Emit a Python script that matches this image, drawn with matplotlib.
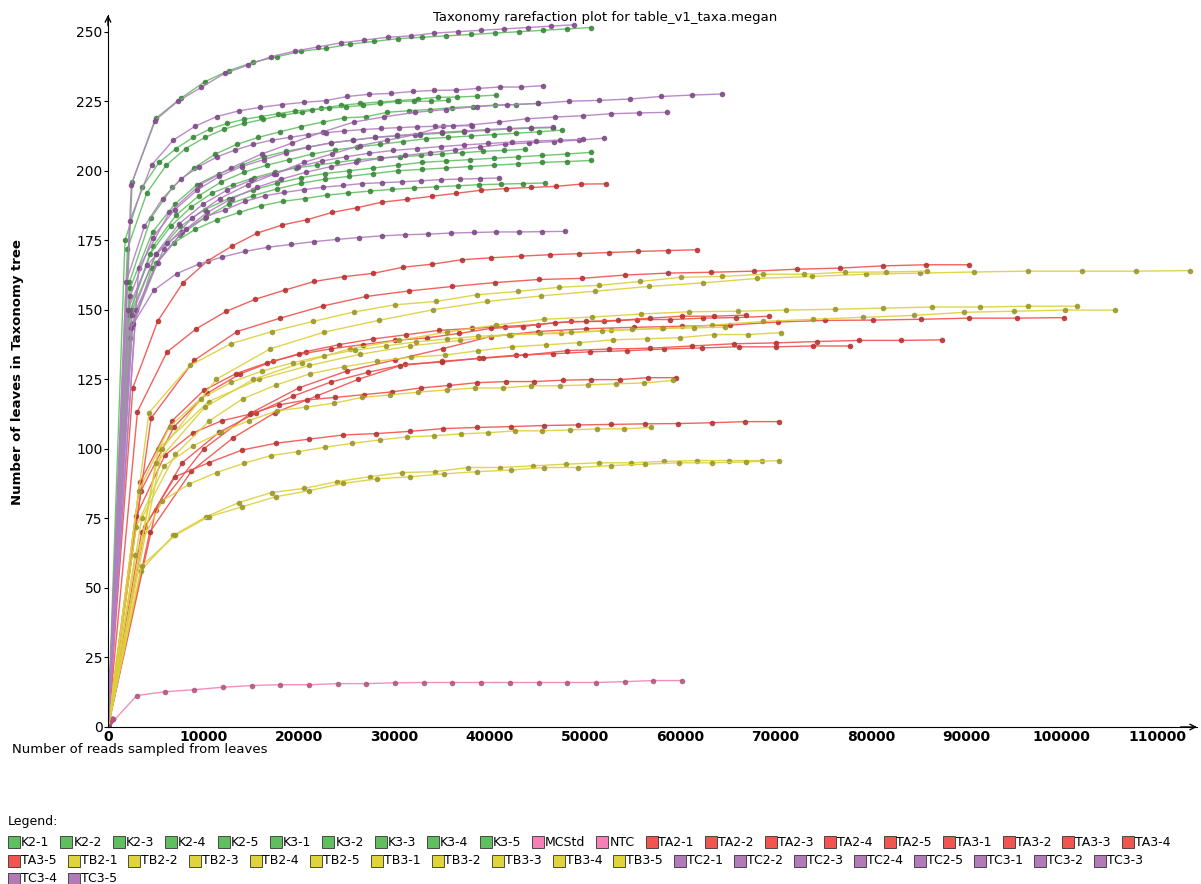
import numpy as np
import matplotlib
matplotlib.use("Agg")
import matplotlib.pyplot as plt
from matplotlib.patches import Rectangle

# total reads per sample; each curve is sampled in 20 equal steps (plus origin)
k_names = ["K2-1", "K2-2", "K2-3", "K2-4", "K2-5", "K3-1", "K3-2", "K3-3", "K3-4", "K3-5"]
k_totals = [50700, 40700, 35700, 45050, 46700, 47570, 43730, 50620, 50620, 45830]
k_leaves = [
    [196, 219, 226, 232, 236, 239, 241, 243, 244, 245.5, 246.5, 247.5, 248, 248.5, 249, 249.5, 250, 250.5, 251, 251.5],
    [172, 192, 202, 208, 212, 215, 217, 218.5, 220, 221, 222.5, 223.5, 224.2, 224.7, 225.2, 225.8, 226.4, 226.5, 226.8, 227.2],
    [175, 194, 203, 208, 212, 215, 217, 218.5, 219.5, 220.5, 221.5, 222, 222.5, 223, 223.5, 224.2, 225, 225, 225, 225.3],
    [160, 183, 194, 201, 206, 209.5, 212, 214, 215.9, 217.5, 219, 219.4, 221, 221.6, 222, 222.7, 223.1, 223.6, 223.8, 224.2],
    [158, 178, 188, 195, 199, 202, 205, 207, 208.5, 210, 211, 212, 212.5, 213, 213.5, 214, 214.5, 215, 215.3, 215.5],
    [150, 173, 184, 191, 196, 199.5, 202, 204, 206, 207.5, 208.5, 209.5, 210.5, 211.5, 212, 212.5, 213, 213.5, 214, 214.6],
    [148, 170, 180, 187, 192, 195, 197.5, 199.5, 201, 202, 203, 204, 204.5, 205, 205.5, 206, 206.5, 207, 207.3, 207.7],
    [150, 170, 180, 186, 190, 193, 195.5, 197.5, 199, 200, 201, 202, 203, 203.5, 204, 204.5, 205, 205.5, 206, 206.6],
    [145, 167, 177, 183, 188, 191, 193.5, 195.5, 197, 198, 199, 200, 200.5, 201, 201.5, 202, 202.5, 203, 203.3, 203.7],
    [140, 165, 174, 179, 182.4, 185, 187.4, 189, 190, 191.2, 192, 192.7, 193.3, 193.8, 194.2, 194.6, 195, 195.2, 195.4, 195.6],
]

ctrl_names = ["MCStd", "NTC"]
ctrl_totals = [60200, 500]
ctrl_leaves = [
    [11.3, 12.7, 13.4, 14.3, 14.9, 15.2, 15.2, 15.6, 15.6, 15.9, 16, 16, 16, 16, 16, 16, 16, 16.3, 16.7, 16.7],
    [0.5, 1, 1, 1.5, 1.5, 2, 2, 2, 2, 2.5, 2.5, 2.5, 2.5, 3, 3, 3, 3, 3, 3, 3],
]

ta_names = ["TA2-1", "TA2-2", "TA2-3", "TA2-4", "TA2-5", "TA3-1", "TA3-2", "TA3-3", "TA3-4", "TA3-5"]
ta_totals = [52200, 61800, 90300, 100300, 69350, 77800, 87500, 59600, 70350, 66900]
ta_leaves = [
    [122, 146, 159.6, 167.6, 173, 177.6, 180.5, 182.4, 185, 186.7, 188.7, 189.7, 190.8, 191.9, 193, 193.6, 194, 194.4, 195.2, 195.3],
    [113.4, 134.8, 143.2, 149.4, 153.8, 157.1, 160.2, 161.9, 163.1, 165.3, 166.4, 168, 168.7, 169.3, 169.8, 170.2, 170.6, 171, 171.3, 171.6],
    [111, 131.8, 142.2, 147, 151.4, 154.8, 156.8, 158.4, 159.8, 160.9, 161.3, 162.5, 163.2, 163.5, 163.9, 164.6, 165, 165.8, 166.2, 166.2],
    [78, 100, 113, 122, 128, 132, 136, 140.4, 142.2, 143.2, 143.7, 144.1, 144.5, 145.6, 146.2, 146.3, 146.6, 147, 147, 147.2],
    [85, 108, 120, 127, 131.5, 135, 137.5, 139.5, 141, 142.6, 143.3, 144, 144.7, 145.8, 145.8, 146.5, 146.5, 147, 147.2, 147.7],
    [72, 95, 106, 113, 119, 124, 127.5, 130.4, 131.2, 132.6, 133.7, 134.2, 134.9, 135.3, 135.9, 136.3, 136.7, 136.7, 137, 137],
    [70, 92, 104, 113, 119, 125, 129.9, 131.5, 132.6, 133.7, 135.3, 135.9, 136.2, 137, 137.8, 138.1, 138.6, 139, 139, 139.2],
    [76, 97.7, 105.8, 110.1, 112.5, 115.8, 117.6, 118.5, 119.5, 120.5, 121.9, 122.8, 123.8, 124.2, 124.2, 124.7, 124.9, 124.9, 125.6, 125.6],
    [70, 90, 95, 99.6, 102, 103.5, 105, 105.5, 106.3, 107.3, 107.7, 108, 108.4, 108.6, 108.8, 109, 109.1, 109.4, 109.8, 109.8],
    [88, 110, 121, 127, 131, 134, 136, 137.5, 139, 139.9, 141.5, 143.3, 144, 145.4, 145.8, 146.2, 147, 147.7, 147.7, 148.1],
]

tb_names = ["TB2-1", "TB2-2", "TB2-3", "TB2-4", "TB2-5", "TB3-1", "TB3-2", "TB3-3", "TB3-4", "TB3-5"]
tb_totals = [113500, 85900, 105600, 101600, 70600, 59200, 56950, 68600, 70400, 64700]
tb_leaves = [
    [100, 125, 136, 142, 146.2, 150, 153, 155, 156.7, 158.4, 159.7, 161.3, 162, 162.8, 163.2, 163.6, 163.9, 163.9, 163.9, 164.1],
    [113, 130, 137.8, 142.2, 145.8, 149.2, 151.8, 153, 155.4, 156.6, 158.1, 158.8, 160.2, 161.7, 162, 162.8, 162.8, 163.5, 163.6, 163.9],
    [100, 117, 125, 130, 134, 137, 139, 141.1, 141.5, 142.6, 143.3, 144.5, 145.8, 146.6, 147.3, 148, 149.1, 149.5, 149.9, 149.9],
    [95, 115, 125, 131, 136, 139, 142, 144.5, 146.6, 147.4, 148.5, 149.3, 149.5, 149.9, 150.2, 150.6, 151, 151, 151.3, 151.3],
    [75, 98, 110, 118, 123, 127, 129.5, 131.5, 133, 133.7, 135.3, 136.7, 137.4, 138.2, 139.2, 139.6, 140, 141.1, 141.1, 141.8],
    [72, 94, 101, 106, 110.2, 113.7, 115, 116.4, 118.5, 119.4, 120.4, 121.2, 121.9, 121.9, 122.7, 122.7, 123, 123.4, 123.7, 124.6],
    [62, 81.3, 87.4, 91.5, 94.8, 97.6, 99, 100.6, 102, 103.2, 104.3, 104.7, 105.4, 105.8, 106.5, 106.5, 106.8, 107.2, 107.2, 107.7],
    [56.2, 68.9, 75.6, 80.7, 84.3, 85.8, 88.2, 90, 91.5, 91.8, 93.3, 93.3, 93.9, 94.5, 95, 95, 95.5, 95.8, 95.8, 95.8],
    [57.9, 68.9, 75.6, 79.2, 82.8, 85, 87.6, 89.2, 90, 91, 91.8, 92.4, 93.3, 93.3, 94, 94.5, 95, 95, 95.3, 95.8],
    [85, 108, 118, 124, 128, 131, 133.5, 135.5, 137, 138.5, 139.5, 140.5, 141, 141.5, 142, 142.5, 143, 143.3, 143.5, 143.8],
]

tc_names = ["TC2-1", "TC2-2", "TC2-3", "TC2-4", "TC2-5", "TC3-1", "TC3-2", "TC3-3", "TC3-4", "TC3-5"]
tc_totals = [48900, 45640, 64420, 58620, 46700, 51980, 41040, 47930, 38130, 49840]
tc_leaves = [
    [195, 218, 225, 230, 235, 238, 241, 243, 244.5, 246, 247, 248, 248.5, 249.5, 250, 250.5, 251, 251.5, 252, 252.5],
    [182, 202, 211, 216, 219.5, 221.5, 222.8, 223.8, 224.6, 225.2, 226.7, 227.5, 227.8, 228.5, 228.9, 229, 229.6, 230.1, 230.1, 230.6],
    [165, 185, 195, 201, 206, 210, 214, 217.5, 219.4, 221, 222, 223.1, 223.7, 224.2, 225, 225.3, 225.8, 226.7, 227.2, 227.6],
    [150, 172, 183, 190, 195, 199, 203, 206, 209, 211, 213, 216, 216.5, 217.5, 218.7, 219.3, 219.8, 220.5, 220.8, 221],
    [155, 176, 186, 193, 198, 201.5, 204, 206.5, 208.5, 210, 211, 212, 212.7, 213.3, 213.8, 214.3, 214.8, 215.2, 215.5, 215.7],
    [145, 167, 178, 185, 190, 194, 197, 199.5, 201.5, 203, 204.5, 205.5, 206.5, 207.5, 208.5, 209.5, 210, 210.5, 211, 211.7],
    [150, 166, 174, 179, 183.5, 186, 189, 191, 192.2, 193.2, 194.1, 194.7, 195.4, 195.7, 196, 196.4, 196.8, 197, 197.2, 197.4],
    [143.5, 157, 163, 166.5, 169, 171, 172.5, 173.5, 174.5, 175.3, 176, 176.6, 177, 177.2, 177.6, 177.8, 178, 178, 178.1, 178.2],
    [160, 180, 190, 197, 201.5, 205, 207.5, 209.5, 211, 212, 213, 213.7, 214.3, 214.8, 215.2, 215.5, 215.8, 216, 216.1, 216.2],
    [148, 170, 181, 188, 193, 196.5, 199, 201.5, 203.5, 205, 206.3, 207.3, 208, 208.7, 209.3, 209.8, 210.3, 210.7, 211, 211.3],
]

# (line colour, marker colour, legend swatch colour)
groups = [
    (k_names, k_totals, k_leaves, "#62c062", "#3b873b", "#5fbf5f"),
    (ctrl_names, ctrl_totals, ctrl_leaves, "#f283b6", "#b45580", "#f57fb6"),
    (ta_names, ta_totals, ta_leaves, "#f0514d", "#b53434", "#f2554f"),
    (tb_names, tb_totals, tb_leaves, "#dcd03c", "#9c9628", "#e0d43d"),
    (tc_names, tc_totals, tc_leaves, "#b47ec2", "#7d4a86", "#b27ab7"),
]

W, H = 1201, 884
fig = plt.figure(figsize=(W / 100, H / 100), dpi=100)
ax = fig.add_axes([108 / W, 1 - 727 / H, (1197 - 108) / W, (727 - 15) / H])

for names, totals, leaves, lc, mc, _ in groups:
    for total, vals in zip(totals, leaves):
        x = np.linspace(0, total, len(vals) + 1)
        y = [0] + vals
        ax.plot(x, y, color=lc, lw=1.0, alpha=0.9, marker="o", ms=4,
                mfc=mc, mec=mc, mew=0)

ax.set_xlim(0, 114200)
ax.set_ylim(0, 256)
ax.set_xticks(np.arange(0, 110001, 10000))
ax.set_yticks(np.arange(0, 251, 25))
for lab in ax.get_xticklabels():
    lab.set_fontweight("bold")
ax.tick_params(axis="x", length=0, pad=2, labelsize=10)
ax.tick_params(axis="y", length=3, pad=1, labelsize=10)
for s in ["top", "right"]:
    ax.spines[s].set_visible(False)
ax.patch.set_alpha(0)

# axis arrows
ax.annotate("", xy=(1.0, 0), xytext=(0.985, 0), xycoords="axes fraction",
            arrowprops=dict(arrowstyle="->", lw=1, color="black", shrinkA=0, shrinkB=0))
ax.annotate("", xy=(0, 1.0), xytext=(0, 0.985), xycoords="axes fraction",
            arrowprops=dict(arrowstyle="->", lw=1, color="black", shrinkA=0, shrinkB=0))

fig.text(605 / W, 1 - 17 / H, "Taxonomy rarefaction plot for table_v1_taxa.megan",
         ha="center", va="center", fontsize=9.5)
fig.text(12 / W, 1 - 749 / H, "Number of reads sampled from leaves",
         ha="left", va="center", fontsize=9.5)
fig.text(18 / W, 1 - 372 / H, "Number of leaves in Taxonomy tree",
         ha="center", va="center", rotation=90, fontsize=9.5, fontweight="bold")

# legend laid out as a flowing list below the plot
fig.text(8 / W, 1 - 822 / H, "Legend:", ha="left", va="center", fontsize=9)
renderer = fig.canvas.get_renderer()
x0, row_y = 8, 842
for names, _, _, _, _, sc in groups:
    for name in names:
        t = fig.text(0, 0, name, fontsize=9, ha="left", va="center")
        tw = t.get_window_extent(renderer).width
        if x0 + 13 + tw > W - 1:
            x0 = 8
            row_y += 18.5
        fig.patches.append(Rectangle((x0 / W, 1 - (row_y + 6) / H), 12 / W, 12 / H,
                                     transform=fig.transFigure, facecolor=sc,
                                     edgecolor="#333333", lw=0.6))
        t.set_position(((x0 + 13) / W, 1 - row_y / H))
        x0 += 13 + tw + 11

fig.savefig("out.png", dpi=100)
